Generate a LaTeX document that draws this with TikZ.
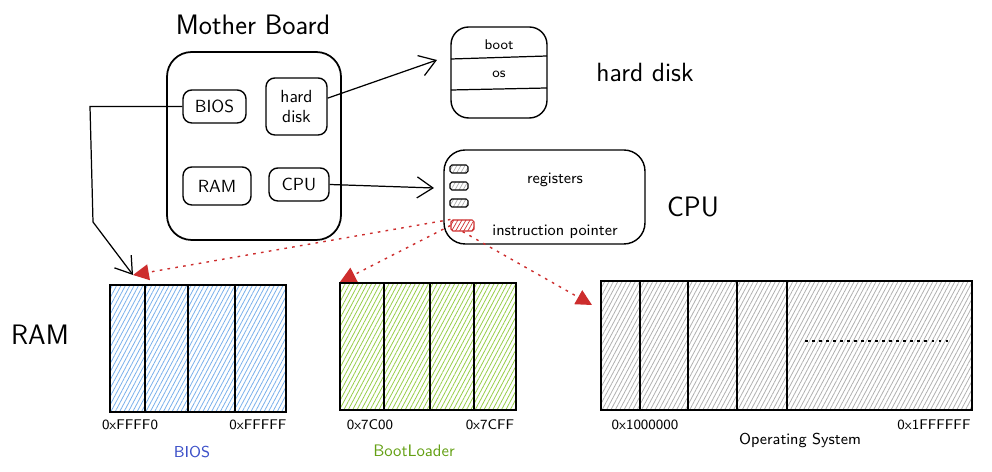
\documentclass[tikz,border=0pt]{standalone}
\usepackage{tikz}
\usetikzlibrary{arrows.meta,patterns.meta,positioning}
\definecolor{biosblue}{RGB}{120,175,235}
\definecolor{biostext}{RGB}{60,80,200}
\definecolor{bootgreen}{RGB}{150,205,70}
\definecolor{boottext}{RGB}{100,160,20}
\definecolor{osgray}{RGB}{175,175,175}
\definecolor{ipred}{RGB}{205,45,45}

\begin{document}
\begin{tikzpicture}[x=0.02cm,y=-0.02cm,font=\sffamily,
    part/.style={draw,line width=0.8pt,rounded corners=5pt,align=center,font=\sffamily\fontsize{10}{11}\selectfont},
    reg/.style={draw,line width=0.6pt,rounded corners=1pt,pattern={Lines[angle=60,distance=2pt,line width=0.4pt]},pattern color=osgray},
    mem/.style={draw,line width=0.8pt,pattern={Lines[angle=62,distance=2.2pt,line width=0.45pt]}},
    addr/.style={font=\sffamily\fontsize{8}{9}\selectfont},
    big/.style={font=\sffamily\fontsize{16}{18}\selectfont},
    wire/.style={line width=0.7pt,-{Straight Barb[length=9pt,width=12pt]}},
    ptr/.style={ipred,line width=0.8pt,dash pattern=on 1.5pt off 3pt,-{Triangle[length=9pt,width=9pt]}}]
  \useasboundingbox (0,0) rectangle (992,472);

  % mother board
  \node[big] (mbtitle) at (253,25) {Mother Board};
  \node[draw,line width=1pt,rounded corners=14pt,minimum width=3.48cm,minimum height=3.76cm] (mb) at (254,146) {};
  \node[part,minimum width=1.26cm,minimum height=0.66cm] (bios) at (214.5,106.5) {BIOS};
  \node[part,minimum width=1.22cm,minimum height=1.14cm,inner sep=1pt] (hd) at (296.5,106.5) {hard\\disk};
  \node[part,minimum width=1.36cm,minimum height=0.76cm] (ram) at (217,186) {RAM};
  \node[part,minimum width=1.2cm,minimum height=0.66cm] (cpu) at (299,184.5) {CPU};

  % hard disk
  \node[draw,line width=0.8pt,rounded corners=10pt,minimum width=1.92cm,minimum height=1.82cm] (disk) at (499,72.5) {};
  \draw[line width=0.7pt] (451,59) -- (547,56);
  \draw[line width=0.7pt] (451,90) -- (547,88);
  \node[font=\sffamily\fontsize{8}{9}\selectfont] (boot) at (499,45) {boot};
  \node[font=\sffamily\fontsize{8}{9}\selectfont] (os) at (499,74) {os};
  \node[big,font=\sffamily\fontsize{15}{17}\selectfont] (disklabel) at (645,72) {hard disk};

  % cpu
  \node[draw,line width=0.8pt,rounded corners=12pt,minimum width=4.02cm,minimum height=1.88cm] (cpubox) at (544.5,197) {};
  \node[reg,minimum width=0.36cm,minimum height=0.16cm,inner sep=0pt] (r1) at (459,169) {};
  \node[reg,minimum width=0.36cm,minimum height=0.16cm,inner sep=0pt] (r2) at (459,186) {};
  \node[reg,minimum width=0.36cm,minimum height=0.16cm,inner sep=0pt] (r3) at (459,203) {};
  \node[reg,draw=ipred,pattern color=ipred,minimum width=0.46cm,minimum height=0.22cm,inner sep=0pt] (ip) at (462.5,225.5) {};
  \node[font=\sffamily\fontsize{9}{10}\selectfont] (regs) at (555,180) {registers};
  \node[font=\sffamily\fontsize{9}{10}\selectfont] (iplabel) at (555,232) {instruction pointer};
  \node[big] (cpulabel) at (693,207) {CPU};

  % ram
  \node[big] (ramlabel) at (40,335) {RAM};
  \node[mem,pattern color=biosblue,minimum width=3.52cm,minimum height=2.54cm] (biosmem) at (198,348.5) {};
  \foreach \x in {145,188,235} \draw[line width=0.8pt] (\x,285) -- (\x,412);
  \node[mem,pattern color=bootgreen,minimum width=3.52cm,minimum height=2.54cm] (bootmem) at (428,346.5) {};
  \foreach \x in {384,430,474} \draw[line width=0.8pt] (\x,283) -- (\x,410);
  \node[mem,pattern color=osgray,minimum width=7.42cm,minimum height=2.58cm] (osmem) at (786.5,345.5) {};
  \foreach \x in {640,688,737,787} \draw[line width=0.8pt] (\x,281) -- (\x,410);
  \draw[line width=0.7pt,dash pattern=on 1.5pt off 2.5pt] (805,341) -- (952,341);

  \node[addr] (a1) at (130,425) {0xFFFF0};
  \node[addr] (a2) at (258,425) {0xFFFFF};
  \node[font=\sffamily\fontsize{9}{10}\selectfont,text=biostext] (biosname) at (192,452) {BIOS};
  \node[addr] (a3) at (370,425) {0x7C00};
  \node[addr] (a4) at (490,425) {0x7CFF};
  \node[font=\sffamily\fontsize{9.5}{10}\selectfont,text=boottext] (bootname) at (414,451) {BootLoader};
  \node[addr] (a5) at (645,425) {0x1000000};
  \node[addr] (a6) at (934,425) {0x1FFFFFF};
  \node[font=\sffamily\fontsize{9}{10}\selectfont] (osname) at (800,440) {Operating System};

  % connectors
  \coordinate (diskin) at (437,60);
  \coordinate (cpuin) at (434,188);
  \coordinate (biosin) at (133,275);
  \coordinate (bootin) at (340,282);
  \coordinate (osin) at (592,305);
  \draw[wire] (hd.15) -- (diskin);
  \draw[wire] (cpu.east) -- (cpuin);
  \draw[wire] (bios.west) -- (90,106.5) -- (93,222) -- (biosin);
  \draw[ptr] (ip.north west) -- (biosin);
  \draw[ptr] (ip.west) -- (bootin);
  \draw[ptr] (ip.south) -- (osin);
\end{tikzpicture}
\end{document}
